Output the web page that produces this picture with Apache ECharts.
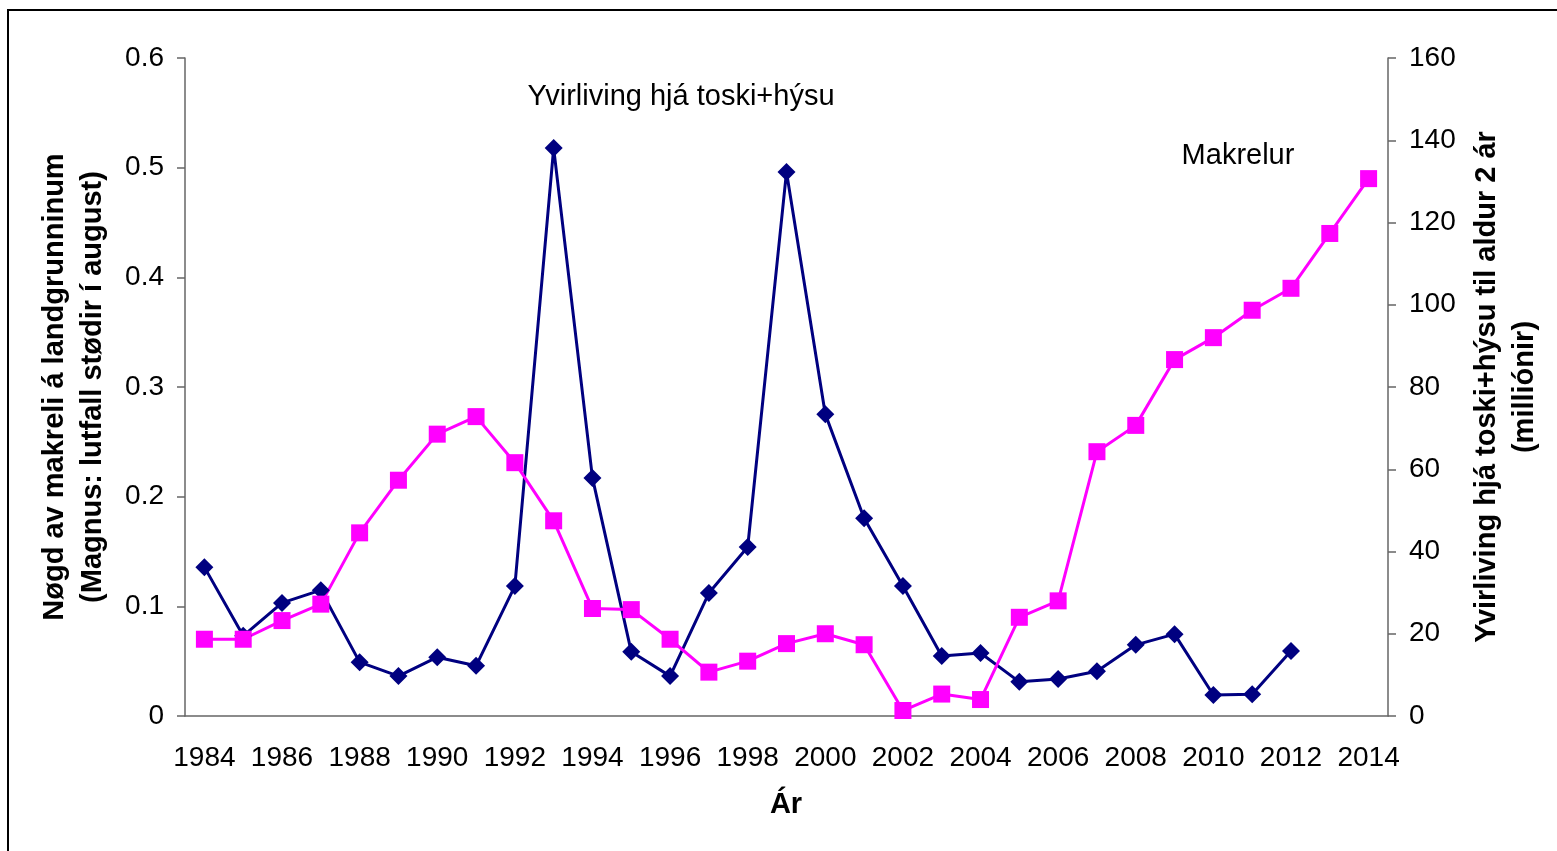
<!DOCTYPE html>
<html>
<head>
<meta charset="utf-8">
<script src="https://cdn.jsdelivr.net/npm/echarts@6/dist/echarts.min.js"></script>
<style>
  html, body { margin: 0; padding: 0; background: #fff; }
  #chart { width: 1557px; height: 851px; }
</style>
</head>
<body>
<div id="chart"></div>
<script>
// years on the x axis
var years = [];
for (var y = 1984; y <= 2014; y++) years.push(String(y));

// mackerel on the shelf (left axis)
var makrelur = [0.07, 0.07, 0.087, 0.102, 0.167, 0.215, 0.257, 0.273, 0.231, 0.178,
  0.098, 0.097, 0.07, 0.04, 0.05, 0.066, 0.075, 0.065, 0.005, 0.02,
  0.015, 0.09, 0.105, 0.241, 0.265, 0.325, 0.345, 0.37, 0.39, 0.44, 0.49];

// survival cod+haddock to age 2, millions (right axis)
var yvirliving = [36.2, 19.5, 27.5, 30.6, 13.1, 9.7, 14.3, 12.2, 31.6, 138.1,
  57.9, 15.6, 9.7, 29.9, 41.1, 132.3, 73.4, 48.1, 31.6, 14.6,
  15.3, 8.3, 9.0, 10.9, 17.3, 19.9, 5.1, 5.3, 15.8, null, null];

var font = "'Liberation Sans', Arial, sans-serif";
var axisGrey = "#666";

var chart = echarts.init(document.getElementById("chart"));

var option = {
  animation: false,
  backgroundColor: "#fff",
  textStyle: { fontFamily: font, color: "#000" },
  grid: { left: 185, right: 169, top: 58, bottom: 135 },
  xAxis: {
    type: "category",
    data: years,
    boundaryGap: true,
    axisLine: { lineStyle: { color: axisGrey, width: 1.5 } },
    axisTick: { interval: 1, length: 8, lineStyle: { color: axisGrey, width: 1.5 } },
    axisLabel: { interval: 1, fontSize: 28, color: "#000", margin: 28, fontFamily: font }
  },
  yAxis: [
    {
      type: "value",
      min: 0,
      max: 0.6,
      interval: 0.1,
      splitLine: { show: false },
      axisLine: { show: true, lineStyle: { color: axisGrey, width: 1.5 } },
      axisTick: { show: true, length: 8, lineStyle: { color: axisGrey, width: 1.5 } },
      axisLabel: { fontSize: 28, color: "#000", margin: 21, fontFamily: font }
    },
    {
      type: "value",
      min: 0,
      max: 160,
      interval: 20,
      position: "right",
      splitLine: { show: false },
      axisLine: { show: true, lineStyle: { color: axisGrey, width: 1.5 } },
      axisTick: { show: true, length: 8, lineStyle: { color: axisGrey, width: 1.5 } },
      axisLabel: { fontSize: 28, color: "#000", margin: 21, fontFamily: font }
    }
  ],
  series: [
    {
      name: "Yvirliving hjá toski+hýsu",
      type: "line",
      yAxisIndex: 1,
      data: yvirliving,
      symbol: "diamond",
      symbolSize: 18,
      color: "#000080",
      lineStyle: { width: 3, color: "#000080" },
      itemStyle: { color: "#000080" }
    },
    {
      name: "Makrelur",
      type: "line",
      yAxisIndex: 0,
      data: makrelur,
      symbol: "rect",
      symbolSize: 17,
      color: "#ff00ff",
      lineStyle: { width: 3, color: "#ff00ff" },
      itemStyle: { color: "#ff00ff" }
    }
  ],
  graphic: [
    {
      type: "rect",
      silent: true,
      shape: { x: 8, y: 10, width: 1620, height: 900 },
      style: { fill: "none", stroke: "#000", lineWidth: 2 }
    },
    {
      type: "text",
      x: 74,
      y: 387,
      rotation: Math.PI / 2,
      style: {
        text: "Nøgd av makreli á landgrunninum\n(Magnus: lutfall stødir í august)",
        font: "bold 29px " + font,
        fill: "#000",
        align: "center",
        verticalAlign: "middle",
        lineHeight: 38
      }
    },
    {
      type: "text",
      x: 1506,
      y: 387,
      rotation: Math.PI / 2,
      style: {
        text: "Yvirliving hjá toski+hýsu til aldur 2 ár\n(milliónir)",
        font: "bold 29px " + font,
        fill: "#000",
        align: "center",
        verticalAlign: "middle",
        lineHeight: 38
      }
    },
    {
      type: "text",
      x: 786,
      y: 805,
      style: {
        text: "Ár",
        font: "bold 29px " + font,
        fill: "#000",
        align: "center",
        verticalAlign: "middle"
      }
    },
    {
      type: "text",
      x: 681,
      y: 97,
      style: {
        text: "Yvirliving hjá toski+hýsu",
        font: "29px " + font,
        fill: "#000",
        align: "center",
        verticalAlign: "middle"
      }
    },
    {
      type: "text",
      x: 1238,
      y: 156,
      style: {
        text: "Makrelur",
        font: "29px " + font,
        fill: "#000",
        align: "center",
        verticalAlign: "middle"
      }
    }
  ]
};

chart.setOption(option);
</script>
</body>
</html>
